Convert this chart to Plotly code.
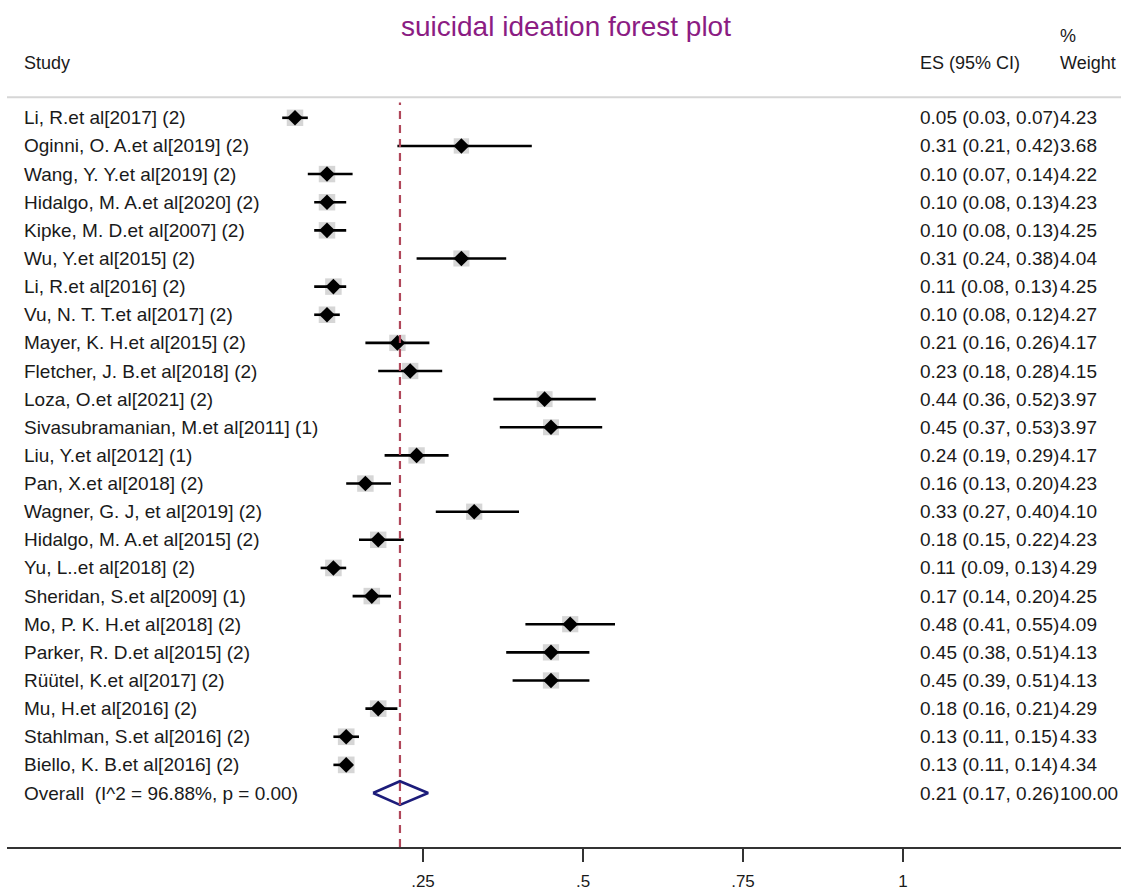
import plotly.graph_objects as go
import math

studies = [
    "Li, R.et al[2017] (2)", "Oginni, O. A.et al[2019] (2)", "Wang, Y. Y.et al[2019] (2)",
    "Hidalgo, M. A.et al[2020] (2)", "Kipke, M. D.et al[2007] (2)", "Wu, Y.et al[2015] (2)",
    "Li, R.et al[2016] (2)", "Vu, N. T. T.et al[2017] (2)", "Mayer, K. H.et al[2015] (2)",
    "Fletcher, J. B.et al[2018] (2)", "Loza, O.et al[2021] (2)", "Sivasubramanian, M.et al[2011] (1)",
    "Liu, Y.et al[2012] (1)", "Pan, X.et al[2018] (2)", "Wagner, G. J, et al[2019] (2)",
    "Hidalgo, M. A.et al[2015] (2)", "Yu, L..et al[2018] (2)", "Sheridan, S.et al[2009] (1)",
    "Mo, P. K. H.et al[2018] (2)", "Parker, R. D.et al[2015] (2)", "Rüütel, K.et al[2017] (2)",
    "Mu, H.et al[2016] (2)", "Stahlman, S.et al[2016] (2)", "Biello, K. B.et al[2016] (2)",
]
es = [0.05, 0.31, 0.10, 0.10, 0.10, 0.31, 0.11, 0.10, 0.21, 0.23, 0.44, 0.45,
      0.24, 0.16, 0.33, 0.18, 0.11, 0.17, 0.48, 0.45, 0.45, 0.18, 0.13, 0.13]
lo = [0.03, 0.21, 0.07, 0.08, 0.08, 0.24, 0.08, 0.08, 0.16, 0.18, 0.36, 0.37,
      0.19, 0.13, 0.27, 0.15, 0.09, 0.14, 0.41, 0.38, 0.39, 0.16, 0.11, 0.11]
hi = [0.07, 0.42, 0.14, 0.13, 0.13, 0.38, 0.13, 0.12, 0.26, 0.28, 0.52, 0.53,
      0.29, 0.20, 0.40, 0.22, 0.13, 0.20, 0.55, 0.51, 0.51, 0.21, 0.15, 0.14]
weights = [4.23, 3.68, 4.22, 4.23, 4.25, 4.04, 4.25, 4.27, 4.17, 4.15, 3.97, 3.97,
           4.17, 4.23, 4.10, 4.23, 4.29, 4.25, 4.09, 4.13, 4.13, 4.29, 4.33, 4.34]

overall_label = "Overall  (I^2 = 96.88%, p = 0.00)"
overall_es = 0.214
overall_lo = 0.172
overall_hi = 0.258
overall_weight = 100.00

tick_vals = [0.25, 0.5, 0.75, 1.0]
tick_text = [".25", ".5", ".75", "1"]

title_text = "suicidal ideation forest plot"

FONT = "Liberation Sans, Arial, sans-serif"
TXT = "#1a1a1a"
FS = 19

W, H = 1121, 891
PLOT_TOP = 0
PLOT_BOTTOM = 852
PLOT_H = PLOT_BOTTOM - PLOT_TOP
ROW0 = 118.5
ROWSTEP = 28.3


def py(page_y):
    return 1 - (page_y - PLOT_TOP) / PLOT_H


def row_of(page_y):
    return (page_y - ROW0) / ROWSTEP


n = len(studies)
rows = list(range(n))
overall_row = n

fig = go.Figure()

# weight boxes
fig.add_trace(go.Scatter(
    x=es, y=rows, mode="markers",
    marker=dict(symbol="square", size=[8.0 * math.sqrt(w) for w in weights],
                color="#c4c4c4", line=dict(width=0)),
    hoverinfo="skip", showlegend=False))

# CI lines
cx, cy = [], []
for r, a, b in zip(rows, lo, hi):
    cx += [a, b, None]
    cy += [r, r, None]
fig.add_trace(go.Scatter(x=cx, y=cy, mode="lines", line=dict(color="black", width=2.6),
                         hoverinfo="skip", showlegend=False))

# point estimates
fig.add_trace(go.Scatter(
    x=es, y=rows, mode="markers",
    marker=dict(symbol="diamond", size=12, color="black", line=dict(width=0)),
    hoverinfo="skip", showlegend=False))

# overall diamond
h = 0.42
fig.add_trace(go.Scatter(
    x=[overall_lo, overall_es, overall_hi, overall_es, overall_lo],
    y=[overall_row, overall_row - h, overall_row, overall_row + h, overall_row],
    mode="lines", line=dict(color="#1c1c7a", width=2.6),
    hoverinfo="skip", showlegend=False))

# dashed overall line
fig.add_shape(type="line", xref="x", yref="paper", x0=overall_es, x1=overall_es,
              y0=0, y1=py(103), line=dict(color="#b0475a", width=2.2, dash="8px,6px"))
# header separator
fig.add_shape(type="line", xref="paper", yref="paper", x0=0, x1=1,
              y0=py(97.7), y1=py(97.7), line=dict(color="#d6d6d6", width=2))

X_STUDY = -0.3766
X_ES = 1.0234
X_W = 1.2422

ann = []
for r, s, e, a, b, w in zip(rows, studies, es, lo, hi, weights):
    ann.append(dict(x=X_STUDY, y=r, text=s, xanchor="left"))
    ann.append(dict(x=X_ES, y=r, text=f"{e:.2f} ({a:.2f}, {b:.2f})", xanchor="left"))
    ann.append(dict(x=X_W, y=r, text=f"{w:.2f}", xanchor="left"))
ann.append(dict(x=X_STUDY, y=overall_row, text=overall_label, xanchor="left"))
ann.append(dict(x=X_ES, y=overall_row,
                text=f"{overall_es:.2f} ({overall_lo:.2f}, {overall_hi:.2f})", xanchor="left"))
ann.append(dict(x=X_W, y=overall_row, text=f"{overall_weight:.2f}", xanchor="left"))

for a in ann:
    a.update(xref="x", yref="y", showarrow=False, yanchor="middle",
             font=dict(family=FONT, size=FS, color=TXT))

hdr = [
    dict(x=X_STUDY, y=row_of(63), text="Study", xanchor="left"),
    dict(x=X_ES, y=row_of(63), text="ES (95% CI)", xanchor="left"),
    dict(x=X_W, y=row_of(63), text="Weight", xanchor="left"),
    dict(x=1.2578, y=row_of(36), text="%", xanchor="center"),
]
for a in hdr:
    a.update(xref="x", yref="y", showarrow=False, yanchor="middle",
             font=dict(family=FONT, size=18, color=TXT))
ann += hdr

ann.append(dict(x=0.4734, y=row_of(27), xref="x", yref="y", text=title_text, showarrow=False,
                xanchor="center", yanchor="middle",
                font=dict(family=FONT, size=28, color="#8b1c83")))

fig.update_layout(
    width=W, height=H,
    margin=dict(l=7, r=0, t=PLOT_TOP, b=H - PLOT_BOTTOM),
    paper_bgcolor="white", plot_bgcolor="white",
    annotations=ann,
    xaxis=dict(range=[(7 - 263) / 640, (1121 - 263) / 640], showgrid=False, zeroline=False,
               showline=True, linecolor="#333333", linewidth=2,
               ticks="outside", ticklen=13, tickwidth=2, tickcolor="#333333",
               tickvals=tick_vals, ticktext=tick_text, ticklabelstandoff=5,
               tickfont=dict(family=FONT, size=17, color=TXT), fixedrange=True),
    yaxis=dict(range=[row_of(PLOT_BOTTOM), row_of(PLOT_TOP)],
               visible=False, fixedrange=True),
    font=dict(family=FONT),
)

fig.write_html(
    "out.html",
    config={"displayModeBar": False, "staticPlot": True},
    post_script="document.body.style.margin='0';document.body.style.overflow='hidden';",
)
